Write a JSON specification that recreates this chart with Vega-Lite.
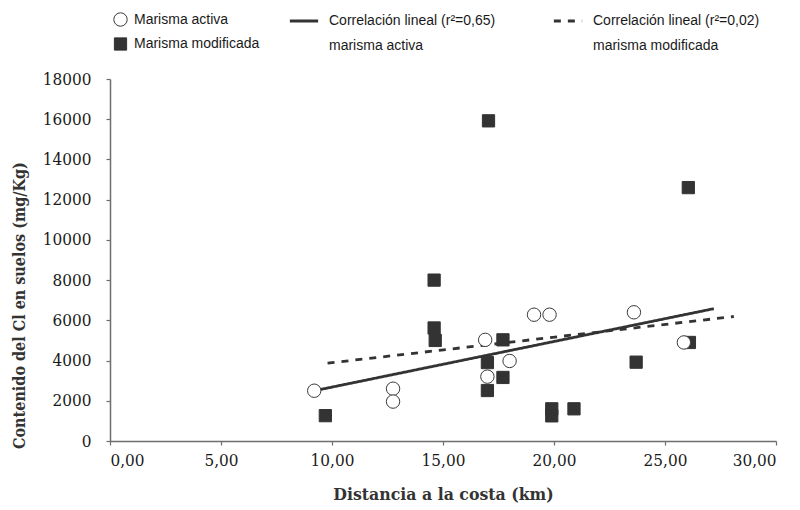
{
  "$schema": "https://vega.github.io/schema/vega-lite/v6.json",
  "width": 666,
  "height": 362,
  "autosize": {"type": "none"},
  "padding": {"left": 110, "top": 79, "right": 24, "bottom": 69},
  "background": "white",
  "config": {
    "view": {"stroke": null},
    "axis": {
      "grid": false,
      "domainColor": "#6e6e6e",
      "domainWidth": 1.5,
      "tickColor": "#6e6e6e",
      "tickWidth": 1.2,
      "tickSize": 4,
      "labelFont": "DejaVu Serif Condensed",
      "labelFontSize": 17,
      "labelColor": "#1a1a1a",
      "titleFont": "DejaVu Serif Condensed",
      "titleFontSize": 17,
      "titleFontWeight": "bold",
      "titleColor": "#333333"
    },
    "legend": {
      "labelFont": "Liberation Sans",
      "labelFontSize": 14,
      "labelColor": "#1a1a1a"
    }
  },
  "layer": [
    {
      "data": {
        "values": [
          {"linea": "Correlación lineal (r²=0,65)|marisma activa", "x": 9.38, "y": 2540},
          {"linea": "Correlación lineal (r²=0,65)|marisma activa", "x": 27.2, "y": 6580},
          {"linea": "Correlación lineal  (r²=0,02)|marisma modificada", "x": 9.8, "y": 3870},
          {"linea": "Correlación lineal  (r²=0,02)|marisma modificada", "x": 28.1, "y": 6190}
        ]
      },
      "mark": {"type": "line", "color": "#333333", "strokeWidth": 2.8},
      "encoding": {
        "x": {"field": "x", "type": "quantitative"},
        "y": {"field": "y", "type": "quantitative"},
        "strokeDash": {
          "field": "linea",
          "type": "nominal",
          "scale": {
            "domain": ["Correlación lineal (r²=0,65)|marisma activa", "Correlación lineal  (r²=0,02)|marisma modificada"],
            "range": [[1, 0], [7, 7]]
          },
          "legend": {
            "title": null,
            "orient": "none",
            "legendX": 178,
            "legendY": -74,
            "direction": "horizontal",
            "columns": 2,
            "columnPadding": 52,
            "symbolType": "stroke",
            "symbolSize": 800,
            "symbolStrokeWidth": 2.8,
            "symbolStrokeColor": "#333333",
            "labelOffset": 9,
            "labelLimit": 400,
            "labelExpr": "split(datum.label, '|')",
            "encode": {"labels": {"update": {"lineHeight": {"value": 25}}}}
          }
        }
      }
    },
    {
      "data": {
        "values": [
          {"serie": "Marisma modificada", "x": 9.7, "y": 1260},
          {"serie": "Marisma modificada", "x": 14.6, "y": 8000},
          {"serie": "Marisma modificada", "x": 14.6, "y": 5620},
          {"serie": "Marisma modificada", "x": 14.65, "y": 5000},
          {"serie": "Marisma modificada", "x": 17.05, "y": 15920},
          {"serie": "Marisma modificada", "x": 17.0, "y": 3900},
          {"serie": "Marisma modificada", "x": 17.7, "y": 5030},
          {"serie": "Marisma modificada", "x": 17.7, "y": 3160},
          {"serie": "Marisma modificada", "x": 17.0, "y": 2510},
          {"serie": "Marisma modificada", "x": 19.9, "y": 1600},
          {"serie": "Marisma modificada", "x": 19.9, "y": 1250},
          {"serie": "Marisma modificada", "x": 20.9, "y": 1600},
          {"serie": "Marisma modificada", "x": 23.7, "y": 3920},
          {"serie": "Marisma modificada", "x": 26.1, "y": 4900},
          {"serie": "Marisma modificada", "x": 26.05, "y": 12600},
          {"serie": "Marisma activa", "x": 9.2, "y": 2500},
          {"serie": "Marisma activa", "x": 12.75, "y": 2600},
          {"serie": "Marisma activa", "x": 12.75, "y": 1960},
          {"serie": "Marisma activa", "x": 16.9, "y": 5030},
          {"serie": "Marisma activa", "x": 17.0, "y": 3200},
          {"serie": "Marisma activa", "x": 18.0, "y": 3980},
          {"serie": "Marisma activa", "x": 19.1, "y": 6280},
          {"serie": "Marisma activa", "x": 19.8, "y": 6280},
          {"serie": "Marisma activa", "x": 23.6, "y": 6400},
          {"serie": "Marisma activa", "x": 25.85, "y": 4900}
        ]
      },
      "mark": {"type": "point", "filled": true, "opacity": 1, "strokeWidth": 1},
      "encoding": {
        "x": {
          "field": "x",
          "type": "quantitative",
          "scale": {"domain": [0, 30], "nice": false, "zero": false},
          "axis": {
            "title": "Distancia a la costa (km)",
            "titleFontSize": 17.5,
            "values": [0, 5, 10, 15, 20, 25, 30],
            "labelExpr": "replace(format(datum.value, '.2f'), '.', ',')",
            "labelPadding": 7,
            "titlePadding": 17
          }
        },
        "y": {
          "field": "y",
          "type": "quantitative",
          "scale": {"domain": [0, 18000], "nice": false},
          "axis": {
            "title": "Contenido del Cl en suelos (mg/Kg)",
            "titleFontSize": 16,
            "values": [0, 2000, 4000, 6000, 8000, 10000, 12000, 14000, 16000, 18000],
            "format": "d",
            "labelPadding": 15,
            "titlePadding": 15,
            "titleY": 226
          }
        },
        "shape": {
          "field": "serie",
          "type": "nominal",
          "scale": {"domain": ["Marisma activa", "Marisma modificada"], "range": ["circle", "square"]},
          "legend": {
            "title": null,
            "orient": "none",
            "legendX": 3,
            "legendY": -67,
            "direction": "vertical",
            "rowPadding": 6,
            "labelOffset": 6,
            "symbolStrokeWidth": 1
          }
        },
        "fill": {
          "field": "serie",
          "type": "nominal",
          "scale": {"domain": ["Marisma activa", "Marisma modificada"], "range": ["#ffffff", "#333333"]}
        },
        "stroke": {
          "field": "serie",
          "type": "nominal",
          "scale": {"domain": ["Marisma activa", "Marisma modificada"], "range": ["#3a3a3a", "#333333"]}
        },
        "size": {
          "field": "serie",
          "type": "nominal",
          "scale": {"domain": ["Marisma activa", "Marisma modificada"], "range": [180, 150]}
        }
      }
    }
  ]
}
